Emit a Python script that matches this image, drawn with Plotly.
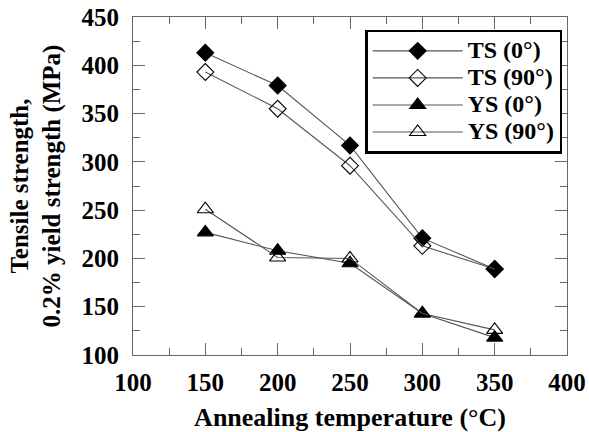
import plotly.graph_objects as go

temps = [150, 200, 250, 300, 350]
ts0 = [413, 379, 317, 221, 189]
ts90 = [393, 355, 296, 213, 189]
ys0 = [227, 208, 195, 143, 118]
ys90 = [251, 201, 200, 143, 126]

names = ["TS (0°)", "TS (90°)", "YS (0°)", "YS (90°)"]
series = [ts0, ts90, ys0, ys90]
symbols = ["diamond", "diamond-open", "triangle-up", "triangle-up-open"]
sizes = [13, 13, 14, 14]
xticks = [100, 150, 200, 250, 300, 350, 400]
yticks = [100, 150, 200, 250, 300, 350, 400, 450]

font_family = "Liberation Serif"
fig = go.Figure()
for n, s, sym, sz in zip(names, series, symbols, sizes):
    fig.add_trace(go.Scatter(
        x=temps, y=s,
        name='<span style="font-size:24px"><b>' + n + "</b></span>",
        mode="lines+markers",
        line=dict(color="#555555", width=1.1),
        marker=dict(symbol=sym, size=sz, color="black",
                    line=dict(color="black", width=1.1)),
    ))

axcol = "#666666"
axis_common = dict(
    showline=True, linecolor=axcol, linewidth=1.2, mirror="ticks",
    ticks="inside", ticklen=12, tickwidth=1.2, tickcolor=axcol,
    showgrid=False, zeroline=False, automargin=False,
    tickfont=dict(family=font_family, size=25, color="black"),
)
fig.update_xaxes(
    range=[100, 400],
    tickvals=xticks, ticktext=["<b>%d</b>" % v for v in xticks],
    minor=dict(ticks="inside", ticklen=7, dtick=25, tickcolor=axcol, tickwidth=1.2),
    title=dict(text="<b>Annealing temperature (°C)</b>",
               font=dict(family=font_family, size=26, color="black"),
               standoff=25),
    ticklabelstandoff=5,
    **axis_common,
)
fig.update_yaxes(
    range=[100, 450],
    tickvals=yticks, ticktext=["<b>%d</b>" % v for v in yticks],
    minor=dict(ticks="inside", ticklen=7, dtick=25, tickcolor=axcol, tickwidth=1.2),
    title=dict(text="<b>Tensile strength,<br>0.2% yield strength (MPa)</b>",
               font=dict(family=font_family, size=25, color="black"),
               standoff=13),
    ticklabelstandoff=8,
    **axis_common,
)
fig.update_layout(
    width=589, height=432,
    margin=dict(l=133, r=22, t=17, b=77),
    paper_bgcolor="white", plot_bgcolor="white",
    showlegend=True,
    legend=dict(
        x=0.535, y=0.962, xanchor="left", yanchor="top",
        bgcolor="white", bordercolor="black", borderwidth=2.5,
        font=dict(family=font_family, size=18.5, color="black"),
        itemwidth=90, tracegroupgap=0,
    ),
)
fig.write_html("out.html")
